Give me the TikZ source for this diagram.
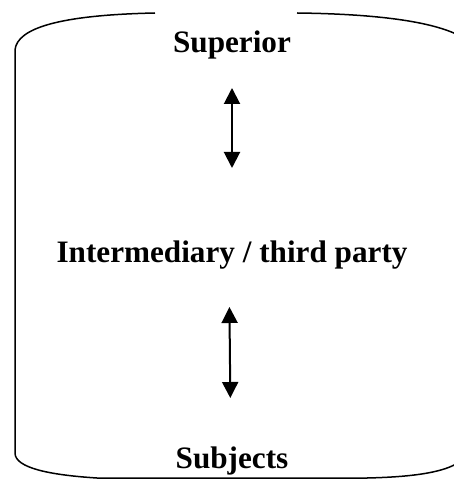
\documentclass[tikz,border=0pt]{standalone}
\usepackage{fontspec}
\setmainfont{Liberation Serif}
\usetikzlibrary{arrows.meta}

\begin{document}
\begin{tikzpicture}[x=1pt,y=-1pt,>={Triangle[length=16pt,width=16pt]},
    lbl/.style={anchor=base,font=\fontsize{31.2}{36}\selectfont\bfseries,inner sep=0pt},
    frame/.style={line width=1.5pt},
    link/.style={<->,line width=2pt}]
  \useasboundingbox (0,0) rectangle (453,486);
  % outline
  \draw[frame] (155,13) .. controls (60,15) and (17,28) .. (15,50) -- (15,453)
    .. controls (15,468) and (50,475) .. (97,478) -- (367,478)
    .. controls (410,477) and (440,473) .. (456,464);
  \draw[frame] (297,13) .. controls (380,14) and (430,22) .. (456,34);
  % labels
  \node[lbl] (sup) at (232,53) {Superior};
  \node[lbl] (mid) at (232,262) {Intermediary / third party};
  \node[lbl] (subj) at (232,468) {Subjects};
  % arrows
  \draw[link,shorten <=35pt,shorten >=94pt] (sup.base) -- (mid.base);
  \draw[link,shorten <=45pt,shorten >=70pt] ([xshift=-3pt]mid.base) -- ([xshift=-1pt]subj.base);
\end{tikzpicture}
\end{document}
